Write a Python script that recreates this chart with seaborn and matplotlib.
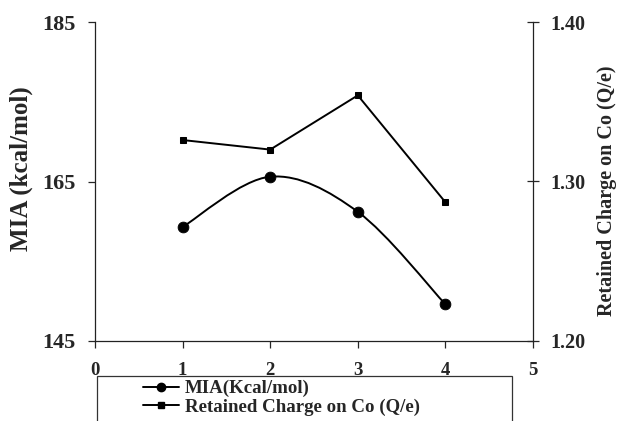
import matplotlib
matplotlib.use('Agg')
import matplotlib.pyplot as plt
import numpy as np
import pandas as pd
import seaborn as sns
from matplotlib.path import Path
from matplotlib.patches import PathPatch, Rectangle
from matplotlib.lines import Line2D

# --- data ---
complex_no = [1, 2, 3, 4]
mia_kcal = [159.3, 165.6, 161.2, 149.6]
retained_charge = [1.326, 1.320, 1.354, 1.287]

df = pd.DataFrame({'n': complex_no, 'mia': mia_kcal, 'q': retained_charge})

sns.set_style('white')
plt.rcParams['font.family'] = ['Liberation Serif', 'DejaVu Serif']
plt.rcParams['font.weight'] = 'bold'

fig = plt.figure(figsize=(6.21, 4.21), dpi=100)
ax = fig.add_axes([95 / 621, 1 - 341 / 421, 438 / 621, 319 / 421])
ax2 = ax.twinx()

# --- MIA: smoothed line (Excel style bezier through the points) + circles ---
x = df['n'].to_numpy(float)
y = df['mia'].to_numpy(float)
verts = [(x[0], y[0])]
codes = [Path.MOVETO]
for i in range(len(x) - 1):
    x0, y0 = (x[i - 1], y[i - 1]) if i > 0 else (x[i], y[i])
    x3, y3 = (x[i + 2], y[i + 2]) if i + 2 < len(x) else (x[i + 1], y[i + 1])
    c1 = (x[i] + (x[i + 1] - x0) / 6, y[i] + (y[i + 1] - y0) / 6)
    c2 = (x[i + 1] - (x3 - x[i]) / 6, y[i + 1] - (y3 - y[i]) / 6)
    verts += [c1, c2, (x[i + 1], y[i + 1])]
    codes += [Path.CURVE4] * 3
ax.add_patch(PathPatch(Path(verts, codes), facecolor='none', edgecolor='black', lw=1.4, zorder=2))
sns.scatterplot(data=df, x='n', y='mia', ax=ax, color='black', marker='o', s=60,
                edgecolor='black', zorder=3, legend=False)

# --- retained charge: straight line with squares ---
sns.lineplot(data=df, x='n', y='q', ax=ax2, color='black', lw=1.4, marker='s',
             markersize=5, markeredgecolor='black', legend=False)

# --- axes ---
ax.set_xlim(0, 5)
ax.set_ylim(145, 185)
ax.set_yticks([145, 165, 185])
ax.set_xticks([0, 1, 2, 3, 4, 5])
ax2.set_ylim(1.20, 1.40)
ax2.set_yticks([1.20, 1.30, 1.40])
ax2.set_yticklabels(['1.20', '1.30', '1.40'])

for a in (ax, ax2):
    a.set_xlabel('')
    a.spines['top'].set_visible(False)
    for s in a.spines.values():
        s.set_color('#222222')
        s.set_linewidth(0.9)
ax.spines['right'].set_visible(False)
ax2.spines['left'].set_visible(False)
ax2.spines['bottom'].set_visible(False)

ax.tick_params(axis='y', direction='out', length=5, width=0.9, pad=9, labelsize=16, left=True)
ax.tick_params(axis='x', direction='out', length=5, width=0.9, pad=10, labelsize=13.5, bottom=True)
ax2.tick_params(axis='y', direction='inout', length=9, width=0.9, pad=8, labelsize=14.5, right=True)
for lab in ax.get_xticklabels() + ax.get_yticklabels() + ax2.get_yticklabels():
    lab.set_fontweight('bold')

ax.set_ylabel('MIA (kcal/mol)', fontsize=18, fontweight='bold')
ax.yaxis.set_label_coords(-0.142, 0.54)
ax2.set_ylabel('Retained Charge on Co (Q/e)', fontsize=14.5, fontweight='bold')
ax2.yaxis.set_label_coords(1.146, 0.47)

# --- legend with a box running off the bottom edge ---
fig.add_artist(Rectangle((97 / 621, -0.1), 415 / 621, 0.1 + 1 - 376 / 421, transform=fig.transFigure,
                         facecolor='none', edgecolor='#333333', lw=0.9, zorder=0))
handles = [Line2D([], [], color='black', lw=1.4, marker='o', markersize=6),
           Line2D([], [], color='black', lw=1.4, marker='s', markersize=4)]
fig.legend(handles, ['MIA(Kcal/mol)', 'Retained Charge on Co (Q/e)'], loc='upper left',
           bbox_to_anchor=(143 / 621, 1 - 380 / 421), frameon=False,
           prop={'size': 13.6, 'weight': 'bold'}, handlelength=1.9, handletextpad=0.3,
           labelspacing=0.05, borderpad=0, borderaxespad=0)

fig.savefig('out.png', dpi=100)
